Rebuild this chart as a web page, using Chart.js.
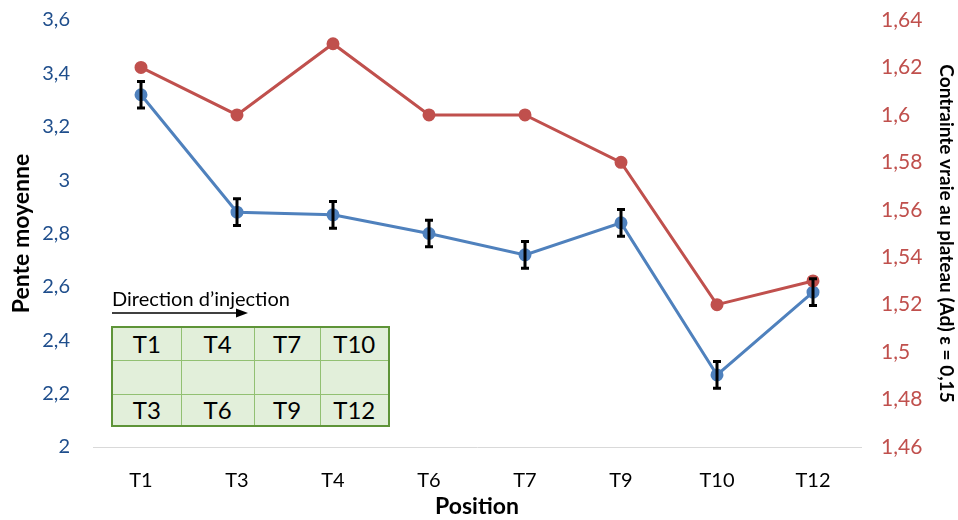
<!DOCTYPE html>
<html><head><meta charset="utf-8">
<script src="https://cdn.jsdelivr.net/npm/chart.js@4/dist/chart.umd.min.js"></script>
<style>
html,body{margin:0;padding:0;background:#fff;}
#wrap{position:relative;width:958px;height:520px;}
canvas{position:absolute;left:0;top:0;}
#dir{position:absolute;left:112px;top:287px;font-family:Lato,"Open Sans",sans-serif;font-size:20px;line-height:22px;color:#000;}
#arrow{position:absolute;left:110px;top:306px;}
table{position:absolute;left:111px;top:326px;width:277px;height:99px;border-collapse:collapse;border:2px solid #5E9438;background:#E2EFDA;font-family:Lato,"Open Sans",sans-serif;font-size:24px;table-layout:fixed;}
td{border:1px solid #92C072;text-align:center;padding:0;line-height:24px;}
tr.r1{height:33px;} tr.r2{height:34px;} tr.r3{height:32px;}
</style></head>
<body><div id="wrap"><canvas id="c" width="958" height="520"></canvas>
<div id="dir">Direction d’injection</div>
<svg id="arrow" width="145" height="14"><line x1="2" y1="7" x2="128" y2="7" stroke="#000" stroke-width="1.3"/><polygon points="126,2.5 138,7 126,11.5" fill="#000"/></svg>
<table>
<colgroup><col style="width:69px"><col style="width:73px"><col style="width:66px"><col style="width:69px"></colgroup>
<tr class="r1"><td>T1</td><td>T4</td><td>T7</td><td>T10</td></tr>
<tr class="r2"><td></td><td></td><td></td><td></td></tr>
<tr class="r3"><td>T3</td><td>T6</td><td>T9</td><td>T12</td></tr></table>
</div>
<script>
const categories = ["T1","T3","T4","T6","T7","T9","T10","T12"];
const penteMoyenne = [3.32,2.88,2.87,2.80,2.72,2.84,2.27,2.58];
const penteErreur = [0.05,0.05,0.05,0.05,0.05,0.05,0.05,0.05];
const contrainte = [1.62,1.60,1.63,1.60,1.60,1.58,1.52,1.53];
const leftTicks = {min:2, max:3.6, step:0.2};
const rightTicks = {min:1.46, max:1.64, step:0.02};

const FONT = 'Lato, "Open Sans", sans-serif';
const fmt = v => String(Number(v.toFixed(2))).replace('.', ',');

const errorBars = {
  id:'errorBars',
  afterDatasetsDraw(chart){
    const ctx = chart.ctx, xs = chart.scales.x, ys = chart.scales.y;
    ctx.save();
    ctx.strokeStyle = '#000'; ctx.lineWidth = 3;
    penteMoyenne.forEach((v,i)=>{
      const x = xs.getPixelForValue(i);
      const y1 = ys.getPixelForValue(v + penteErreur[i]);
      const y2 = ys.getPixelForValue(v - penteErreur[i]);
      ctx.beginPath();
      ctx.moveTo(x,y1); ctx.lineTo(x,y2);
      ctx.moveTo(x-4,y1); ctx.lineTo(x+4,y1);
      ctx.moveTo(x-4,y2); ctx.lineTo(x+4,y2);
      ctx.stroke();
    });
    ctx.restore();
  }
};

function fitY(w){ return function(s){ s.width = w; s.paddingTop = 0; s.paddingBottom = 0; }; }

new Chart(document.getElementById('c'), {
  type:'line',
  data:{labels:categories, datasets:[
    {label:'Pente moyenne', data:penteMoyenne, yAxisID:'y', borderColor:'#4F81BD', backgroundColor:'#4F81BD', borderWidth:3, pointRadius:5, pointHoverRadius:5, order:2},
    {label:'Contrainte', data:contrainte, yAxisID:'y1', borderColor:'#C0504D', backgroundColor:'#C0504D', borderWidth:3, pointRadius:5, pointHoverRadius:5, order:1}
  ]},
  options:{
    responsive:false, animation:false,
    layout:{padding:{top:20,left:0,right:0,bottom:0}},
    plugins:{legend:{display:false}, tooltip:{enabled:false}},
    scales:{
      x:{
        offset:true,
        grid:{display:false, drawTicks:false, offset:true},
        border:{display:true, color:'#D9D9D9', width:1},
        ticks:{padding:22, color:'#000', font:{family:FONT, size:20}},
        title:{display:true, text:'Position', color:'#000', font:{family:FONT, size:23, weight:'bold'}, padding:{top:0,bottom:0}},
        afterFit(s){ s.height = 73; s.paddingLeft = 0; s.paddingRight = 0; }
      },
      y:{
        position:'left', min:leftTicks.min, max:leftTicks.max,
        grid:{display:false, drawTicks:false}, border:{display:false},
        ticks:{stepSize:leftTicks.step, padding:23, color:'#1F4E8C', font:{family:FONT, size:20}, callback:v=>fmt(v)},
        title:{display:true, text:'Pente moyenne', color:'#000', font:{family:FONT, size:23, weight:'bold'}, padding:{top:8,bottom:4}},
        afterFit: fitY(93)
      },
      y1:{
        position:'right', min:rightTicks.min, max:rightTicks.max,
        grid:{display:false, drawTicks:false}, border:{display:false},
        ticks:{stepSize:rightTicks.step, padding:20, color:'#C0504D', font:{family:FONT, size:21}, callback:v=>fmt(v)},
        title:{display:true, text:'Contrainte vraie au plateau (Ad) ε = 0,15', color:'#000', font:{family:FONT, size:19, weight:'bold'}, padding:{top:0,bottom:2}},
        afterFit: fitY(97)
      }
    }
  },
  plugins:[errorBars]
});
</script></body></html>
